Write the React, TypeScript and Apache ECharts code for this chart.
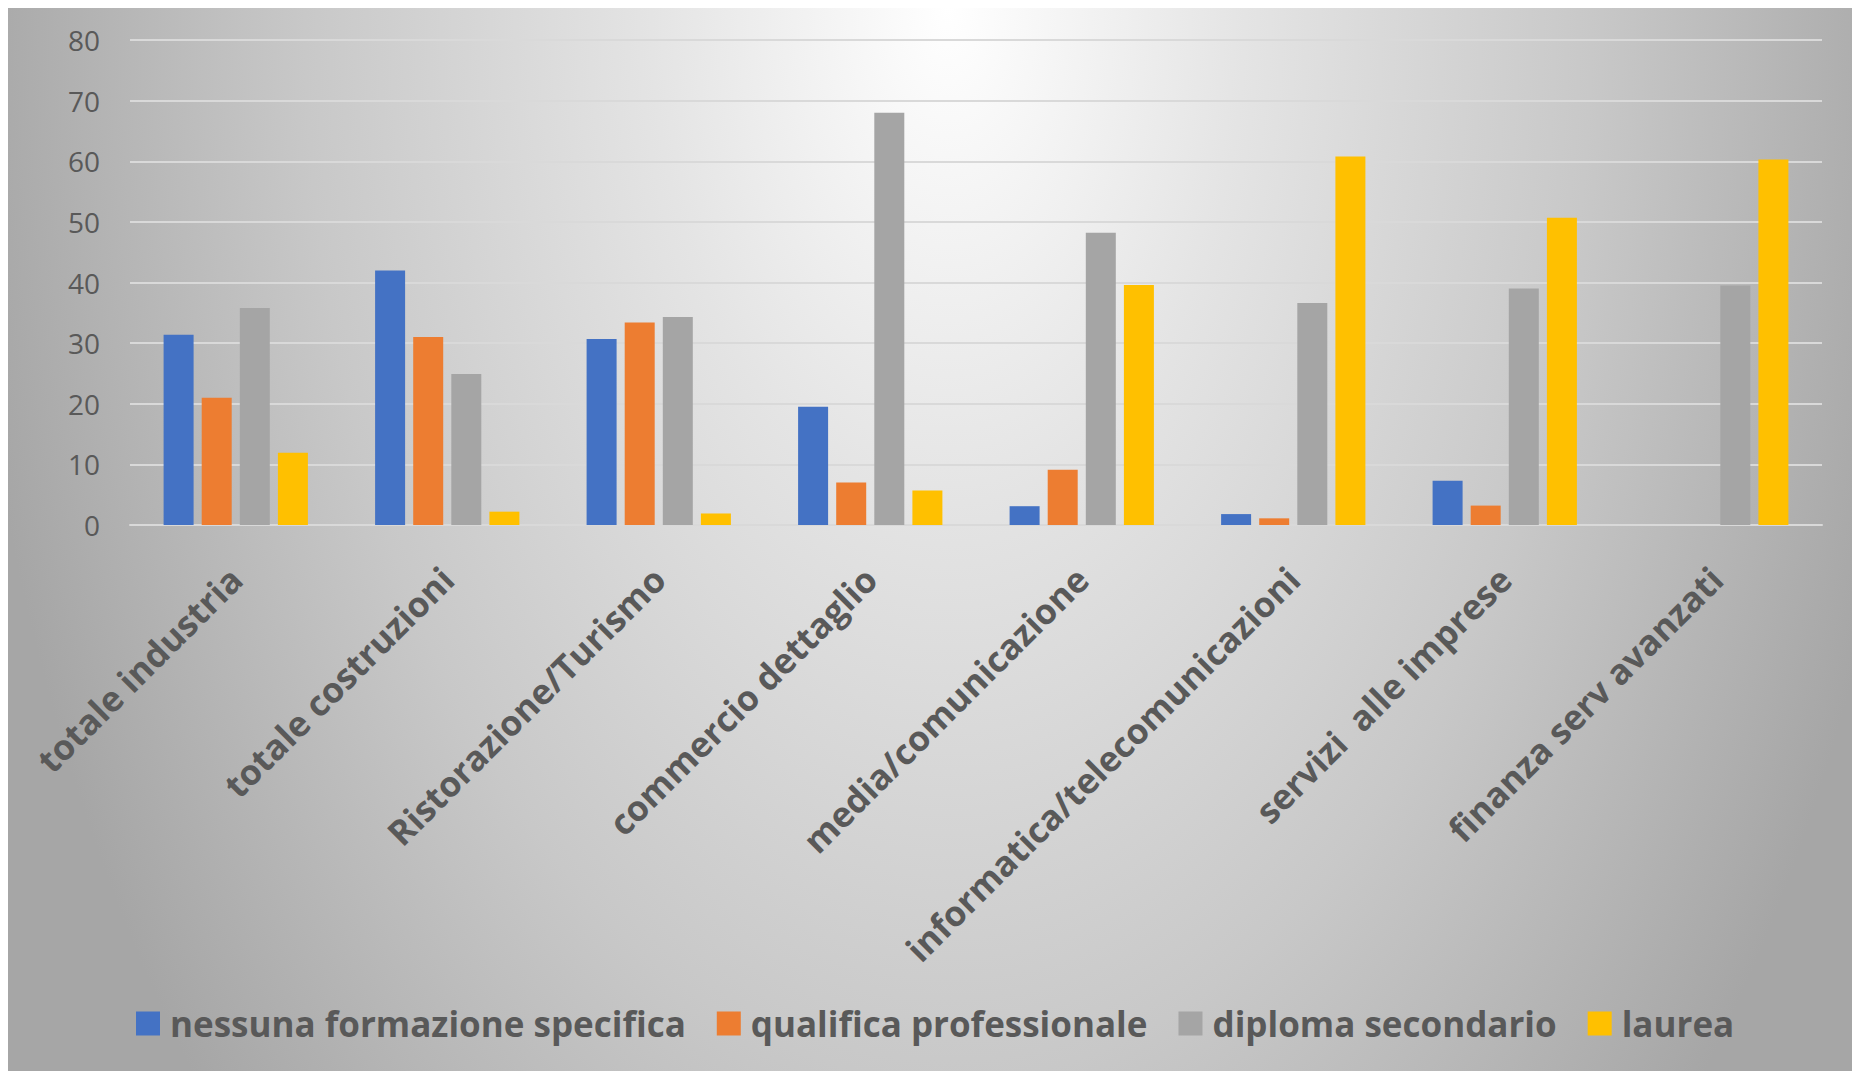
import React, { useEffect, useRef } from "react";
import * as echarts from "echarts";

const categories = [
  "totale industria",
  "totale costruzioni",
  "Ristorazione/Turismo",
  "commercio dettaglio",
  "media/comunicazione",
  "informatica/telecomunicazioni",
  "servizi  alle imprese",
  "finanza serv avanzati",
];

const seriesNames = [
  "nessuna formazione specifica",
  "qualifica professionale",
  "diploma secondario",
  "laurea",
];

const nessunaFormazione = [31.4, 42.0, 30.7, 19.5, 3.1, 1.8, 7.3, 0];
const qualificaProfessionale = [21.0, 31.0, 33.4, 7.0, 9.1, 1.1, 3.2, 0];
const diplomaSecondario = [35.8, 24.9, 34.3, 68.0, 48.2, 36.6, 39.0, 39.5];
const laurea = [11.9, 2.2, 1.9, 5.7, 39.6, 60.8, 50.7, 60.3];

const seriesColors = ["#4472C4", "#ED7D31", "#A5A5A5", "#FFC000"];

const FONT = "'Open Sans', 'Noto Sans', sans-serif";

export default function App() {
  const ref = useRef<HTMLDivElement>(null);

  useEffect(() => {
    if (!ref.current) return;
    const chart = echarts.init(ref.current, null, { renderer: "svg" });
    const values = [nessunaFormazione, qualificaProfessionale, diplomaSecondario, laurea];
    chart.setOption({
      animation: false,
      backgroundColor: "transparent",
      textStyle: { fontFamily: FONT },
      grid: { left: 122, right: 30, top: 32, bottom: 546, containLabel: false },
      legend: {
        left: 123,
        top: 993,
        itemWidth: 24,
        itemHeight: 24,
        itemGap: 31,
        icon: "rect",
        data: seriesNames,
        textStyle: {
          fontFamily: FONT,
          fontSize: 35,
          fontWeight: "bold",
          color: "#595959",
          padding: [0, 0, 0, 5],
        },
      },
      xAxis: {
        type: "category",
        data: categories,
        axisLine: { show: true, lineStyle: { color: "#d9d9d9", width: 2 } },
        axisTick: { show: false },
        axisLabel: {
          interval: 0,
          rotate: 45,
          margin: 48,
          fontFamily: FONT,
          fontSize: 35,
          fontWeight: "bold",
          color: "#595959",
        },
      },
      yAxis: {
        type: "value",
        min: 0,
        max: 80,
        interval: 10,
        axisLine: { show: false },
        axisTick: { show: false },
        splitLine: { lineStyle: { color: "#d9d9d9", width: 2 } },
        axisLabel: {
          margin: 30,
          fontFamily: FONT,
          fontSize: 28,
          color: "#595959",
        },
      },
      series: seriesNames.map((name, i) => ({
        name,
        type: "bar",
        data: values[i],
        barWidth: 30,
        barGap: "27%",
        itemStyle: { color: seriesColors[i] },
      })),
    });
    return () => chart.dispose();
  }, []);

  return (
    <div
      style={{
        position: "absolute",
        left: 8,
        top: 8,
        width: 1844,
        height: 1063,
        background:
          "radial-gradient(ellipse 990px 1650px at 51% 0%, #ffffff 0%, #e4e4e4 30%, #c8c8c8 65%, #a6a6a6 100%)",
      }}
    >
      <div ref={ref} style={{ width: 1844, height: 1063 }} />
    </div>
  );
}
